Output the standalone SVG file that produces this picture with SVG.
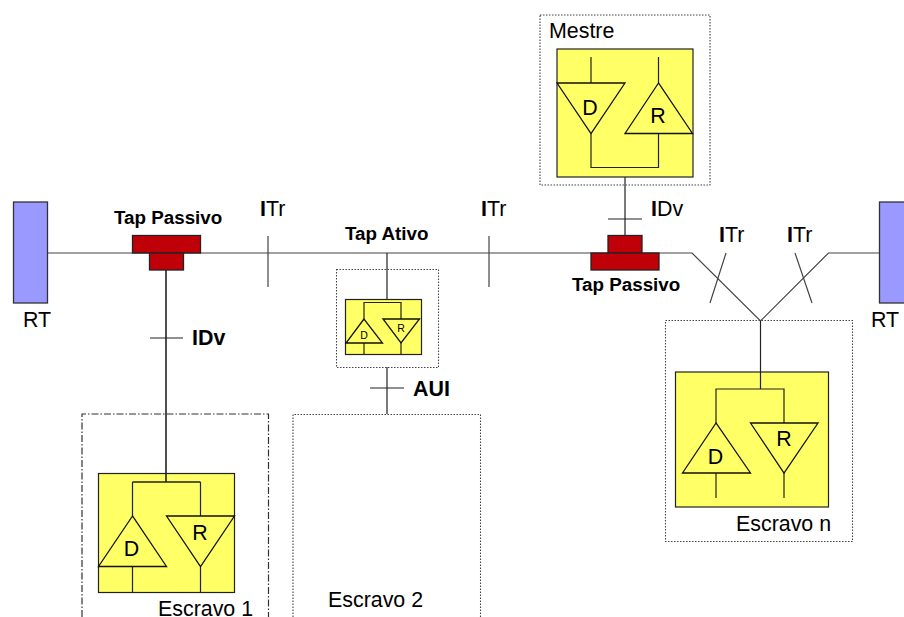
<svg xmlns="http://www.w3.org/2000/svg" width="904" height="617" viewBox="0 0 904 617">
<style>
text{font-family:"Liberation Sans",Arial,sans-serif;fill:#000}
.t{font-size:21.4px}
.b{font-weight:bold}
.tap{font-size:18.8px;font-weight:bold}
.l{fill:none;stroke:#222;stroke-width:1.2}
.h{fill:none;stroke:#222;stroke-width:1.6}
.g{fill:none;stroke:#444;stroke-width:1.2}
.y{fill:#ffff66;stroke:#222;stroke-width:1.2}
.tri{fill:none;stroke:#111;stroke-width:1.3}
.dot{fill:none;stroke:#444;stroke-width:1.1;stroke-dasharray:1.5 1.5}
.dash{fill:none;stroke:#333;stroke-width:1.2;stroke-dasharray:7 2 1.5 2}
.rt{fill:#9999ff;stroke:#333;stroke-width:1.3}
.red{fill:#c00008;stroke:#222;stroke-width:1.3}
</style>
<g id="connectors">
<path class="g" d="M47.5 253H692L760.5 321L828.5 253H879"/>
<path class="g" d="M268 236V287M489 236V287M726 253L710 303M795 253L812 303"/>
<path class="h" d="M166 270V482"/>
<path class="l" d="M150 338H183"/>
<path class="l" d="M625 168V235M608 219H642"/>
<path class="l" d="M387 253V303M387 367V414M370 388H404"/>
<path class="l" d="M760.5 321V389"/>
</g>
<g id="rt-left"><rect class="rt" x="13.5" y="202" width="34" height="101"/><text class="t" x="23" y="327">RT</text></g>
<g id="rt-right"><rect class="rt" x="879.5" y="202" width="34" height="101"/><text class="t" x="871" y="327">RT</text></g>
<g id="tap-passivo-1"><rect class="red" x="132.5" y="235.5" width="68" height="17.5"/><rect class="red" x="149.5" y="253" width="34" height="17"/><text class="tap" x="114" y="224">Tap Passivo</text></g>
<g id="tap-passivo-2"><rect class="red" x="608" y="235.5" width="34" height="17.5"/><rect class="red" x="591" y="253" width="68" height="17"/><text class="tap" x="572" y="291">Tap Passivo</text></g>
<g id="tap-ativo"><text class="tap" x="345" y="240">Tap Ativo</text></g>
<g id="labels">
<text class="t" x="260" y="216"><tspan class="b">I</tspan>Tr</text>
<text class="t" x="481" y="216"><tspan class="b">I</tspan>Tr</text>
<text class="t" x="719" y="242"><tspan class="b">I</tspan>Tr</text>
<text class="t" x="787" y="242"><tspan class="b">I</tspan>Tr</text>
<text class="t b" x="192" y="345">IDv</text>
<text class="t" x="651" y="216"><tspan class="b">I</tspan>Dv</text>
<text class="t b" x="413" y="396">AUI</text>
</g>
<g id="mestre">
<rect class="dot" x="540" y="15" width="170" height="170"/>
<text class="t" x="549" y="38">Mestre</text>
<rect class="y" x="557" y="49" width="136" height="128"/>
<path class="l" d="M591 57V83M658.5 57V83M591 133.5V167.5H658.5V133.5"/>
<path class="tri" d="M557 83H625L591 133.5ZM658.5 83L625 133.5H692.5Z"/>
<text class="t" x="590" y="115" text-anchor="middle">D</text>
<text class="t" x="658" y="123" text-anchor="middle">R</text>
</g>
<g id="escravo-1">
<path class="dash" d="M82 617V414H268.5V617"/>
<rect class="y" x="98.5" y="473.500" width="136" height="119"/>
<path class="h" d="M166 473.500V482M132.500 482H200.500"/>
<path class="l" d="M132.500 516V482M200.500 482V516M132.500 566.500V592M200.500 566.500V592"/>
<path class="tri" d="M132.500 516L98.500 566.500H166.500ZM166.500 516H234.500L200.500 566.500Z"/>
<text class="t" x="131.500" y="556" text-anchor="middle">D</text>
<text class="t" x="200" y="540" text-anchor="middle">R</text>
<text class="t" x="158" y="616">Escravo 1</text>
</g>
<g id="escravo-ativo">
<rect class="dot" x="336.500" y="269.500" width="102" height="98"/>
<rect class="y" x="345.500" y="299.500" width="76" height="55"/>
<path class="l" d="M364 319V302.500H401V319M364 343V354M401 343V354"/>
<path class="tri" d="M364 319L346 343H382.500ZM383 319H419.500L401 343Z"/>
<text x="364" y="339" font-size="10.500" text-anchor="middle">D</text>
<text x="401" y="332" font-size="10.500" text-anchor="middle">R</text>
</g>
<g id="escravo-2">
<path class="dot" d="M293 617V414.500H480.500V617"/>
<text class="t" x="328" y="607">Escravo 2</text>
</g>
<g id="escravo-n">
<rect class="dot" x="665.500" y="320.500" width="187" height="221"/>
<rect class="y" x="675.500" y="372" width="153" height="135"/>
<path class="l" d="M760.500 372V389M716 423V389H784V423M716 473V498M784 473V498"/>
<path class="tri" d="M716 423L682.500 473H750.500ZM750.500 423H818L784 473Z"/>
<text class="t" x="715.500" y="464" text-anchor="middle">D</text>
<text class="t" x="784" y="446" text-anchor="middle">R</text>
<text class="t" x="736" y="531">Escravo n</text>
</g>
</svg>
